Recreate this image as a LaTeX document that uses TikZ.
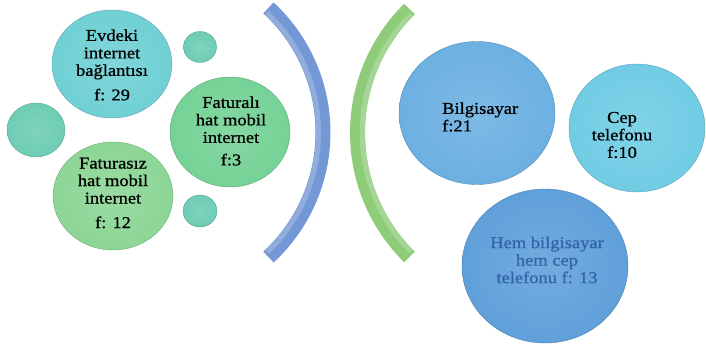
\documentclass[tikz,border=0pt]{standalone}
\usepackage{fontspec}
\setmainfont{Liberation Serif}[FakeStretch=1.12,FakeBold=0.9]
\usetikzlibrary{shapes.geometric}
\definecolor{cEv}{RGB}{112,208,212}
\definecolor{cSm}{RGB}{110,205,180}
\definecolor{cFl}{RGB}{118,210,150}
\definecolor{cFs}{RGB}{140,214,150}
\definecolor{cBil}{RGB}{108,176,226}
\definecolor{cCep}{RGB}{112,204,228}
\definecolor{cHem}{RGB}{96,160,218}
\definecolor{cHemTxt}{RGB}{50,100,170}
\definecolor{cArcB}{RGB}{116,152,214}
\definecolor{cArcG}{RGB}{142,204,122}
\tikzset{
  bubble/.style={ellipse, inner sep=0pt, outer sep=0pt, draw=#1!80!black, line width=0.4pt,
    inner color=#1!88!white, outer color=#1},
  label/.style={inner sep=0pt, align=center, text=black, font=\fontsize{16.5}{17.5}\selectfont},
  arcband/.style={line width=15pt, draw=#1},
  arcshine/.style={line width=5pt, draw=#1!80!white}
}
\begin{document}
\begin{tikzpicture}[x=1pt,y=-1pt]
\useasboundingbox (0,0) rectangle (706,350);
% left group
\node[bubble=cEv, minimum width=120pt, minimum height=108pt] (ev) at (112,64) {};
\node[bubble=cSm, minimum width=58pt, minimum height=54pt] (s1) at (36,130) {};
\node[bubble=cSm, minimum width=33pt, minimum height=31pt] (s2) at (200,47) {};
\node[bubble=cSm, minimum width=34pt, minimum height=32pt] (s3) at (200,211) {};
\node[bubble=cFl, minimum width=120pt, minimum height=110pt] (fl) at (230,132) {};
\node[bubble=cFs, minimum width=120pt, minimum height=108pt] (fs) at (113,196) {};
\node[label] (evt) at (112,65) {Evdeki\\internet\\bağlantısı\\[7pt]f: 29};
\node[label] (flt) at (231,131) {Faturalı\\hat mobil\\internet\\[5pt]f:3};
\node[label] (fst) at (113,193) {Faturasız\\hat mobil\\internet\\[7pt]f: 12};
% arcs
\coordinate (cb) at (153.5,132.5);
\coordinate (cg) at (531.3,133);
\draw[arcband=cArcB] ([shift={(47.3:169.5)}]cb) arc[start angle=47.3, end angle=-47.3, radius=169.5];
\draw[arcshine=cArcB] ([shift={(46.5:165)}]cb) arc[start angle=46.5, end angle=-46.5, radius=165];
\draw[arcband=cArcG] ([shift={(134.5:173.8)}]cg) arc[start angle=134.5, end angle=225.5, radius=173.8];
\draw[arcshine=cArcG] ([shift={(135.5:169)}]cg) arc[start angle=135.5, end angle=224.5, radius=169];
% right group
\node[bubble=cBil, minimum width=156pt, minimum height=143pt] (bil) at (477,113) {};
\node[bubble=cCep, minimum width=136pt, minimum height=128pt] (cep) at (637,128) {};
\node[bubble=cHem, minimum width=166pt, minimum height=154pt] (hem) at (545,266) {};
\node[label, align=left, anchor=west] (bilt) at (442,117) {Bilgisayar\\f:21};
\node[label] (cept) at (622,135) {Cep\\telefonu\\f:10};
\node[label, text=cHemTxt] (hemt) at (547,260) {Hem bilgisayar\\hem cep\\telefonu f: 13};
\end{tikzpicture}
\end{document}
